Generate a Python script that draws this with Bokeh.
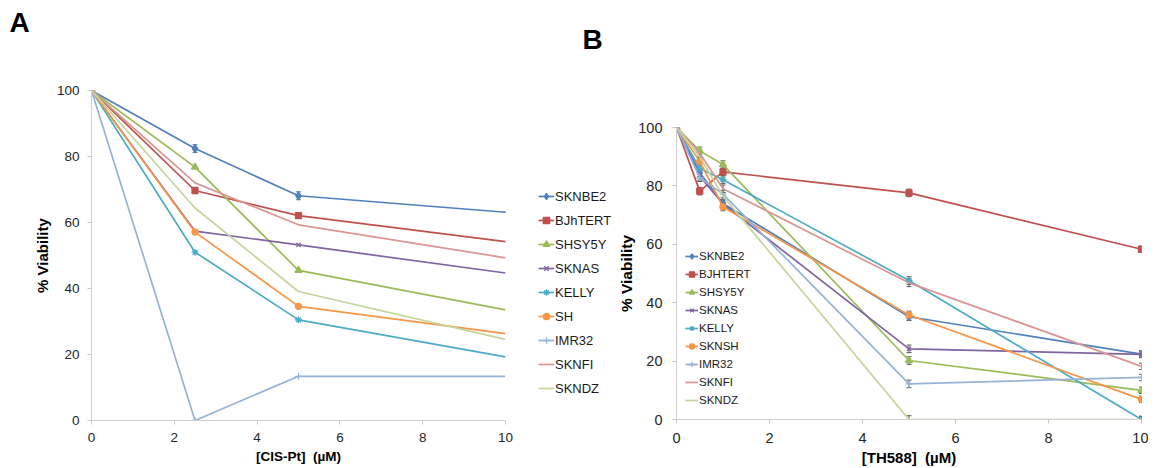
from bokeh.plotting import figure
from bokeh.layouts import row, column
from bokeh.models import (Legend, LegendItem, Label, Whisker, ColumnDataSource,
                          Range1d, FixedTicker, TeeHead)
from bokeh.embed import file_html
from bokeh.resources import INLINE

# ---------------- data : panel A (cisplatin) ----------------
lines_a = ["SKNBE2", "BJhTERT", "SHSY5Y", "SKNAS", "KELLY", "SH", "IMR32", "SKNFI", "SKNDZ"]
dose_a = [0, 2.5, 5, 10]
sknbe2_a = [100, 82.4, 68.1, 63.1]
bjhtert_a = [100, 69.7, 62.1, 54.2]
shsy5y_a = [100, 76.8, 45.5, 33.5]
sknas_a = [100, 57.4, 53.2, 44.7]
kelly_a = [100, 51.0, 30.5, 19.3]
sh_a = [100, 57.1, 34.6, 26.3]
imr32_a = [100, 0.0, 13.4, 13.4]
sknfi_a = [100, 72.0, 59.3, 49.3]
skndz_a = [100, 64.4, 39.1, 24.6]
err_sknbe2_a = [0, 1.2, 1.2, 0]

# ---------------- data : panel B (TH588) ----------------
lines_b = ["SKNBE2", "BJHTERT", "SHSY5Y", "SKNAS", "KELLY", "SKNSH", "IMR32", "SKNFI", "SKNDZ"]
dose_b = [0, 0.5, 1, 5, 10]
sknbe2_b = [100, 84.5, 74.0, 35.2, 22.4]
bjhtert_b = [100, 78.2, 84.8, 77.6, 58.3]
shsy5y_b = [100, 92.0, 87.3, 20.2, 10.0]
sknas_b = [100, 83.3, 73.8, 24.2, 22.3]
kelly_b = [100, 86.0, 82.1, 47.6, 0.0]
sknsh_b = [100, 88.4, 72.8, 35.8, 6.9]
imr32_b = [100, 82.8, 77.2, 12.2, 14.4]
sknfi_b = [100, 91.2, 79.0, 46.8, 18.2]
skndz_b = [100, 90.0, 76.5, 0.0, 0.0]
err_b = [0, 1.3, 1.3, 1.3, 1.1]

vals_a = [sknbe2_a, bjhtert_a, shsy5y_a, sknas_a, kelly_a, sh_a, imr32_a, sknfi_a, skndz_a]
vals_b = [sknbe2_b, bjhtert_b, shsy5y_b, sknas_b, kelly_b, sknsh_b, imr32_b, sknfi_b, skndz_b]

# ---------------- styles ----------------
colors = ["#4F81BD", "#C0504D", "#9BBB59", "#8064A2", "#4BACC6", "#F79646",
          "#95B3D7", "#D99694", "#C3D69B"]
markers = ["diamond", "square", "triangle", "x", "asterisk", "circle", "cross", None, None]
msizes = [8, 6, 7, 6, 7, 6, 7, 0, 0]
FONT = "Liberation Sans"
H = 468
HDR = 44


def style_axes(p, tick_size, xlab_size, ylab_size, ylab_standoff, ytick_standoff,
               xtick_standoff, xlab_standoff):
    for ax in (p.xaxis[0], p.yaxis[0]):
        ax.axis_line_color = "#D0D0D0"
        ax.axis_line_width = 1
        ax.major_tick_line_color = "#C8C8C8"
        ax.major_tick_in = 0
        ax.major_tick_out = 4
        ax.minor_tick_line_color = None
        ax.major_label_text_font = FONT
        ax.major_label_text_font_size = tick_size
        ax.major_label_text_color = "#262626"
        ax.axis_label_text_font = FONT
        ax.axis_label_text_font_style = "bold"
        ax.axis_label_text_color = "#000000"
    p.xaxis[0].axis_label_text_font_size = xlab_size
    p.yaxis[0].axis_label_text_font_size = ylab_size
    p.xaxis[0].major_label_standoff = xtick_standoff
    p.xaxis[0].axis_label_standoff = xlab_standoff
    p.yaxis[0].major_label_standoff = ytick_standoff
    p.yaxis[0].axis_label_standoff = ylab_standoff
    p.xaxis[0].ticker = FixedTicker(ticks=[0, 2, 4, 6, 8, 10])
    p.yaxis[0].ticker = FixedTicker(ticks=[0, 20, 40, 60, 80, 100])
    p.xgrid.grid_line_color = None
    p.ygrid.grid_line_color = None
    p.outline_line_color = None


def draw_series(p, x, ys, names, marker_upto):
    items = []
    for i, (y, name) in enumerate(zip(ys, names)):
        rs = [p.line(x, y, line_color=colors[i], line_width=1.7)]
        if markers[i] is not None:
            rs.append(p.scatter(x[:marker_upto], y[:marker_upto], marker=markers[i],
                                size=msizes[i], fill_color=colors[i], line_color=colors[i],
                                line_width=1.3))
        items.append(LegendItem(label=name, renderers=rs))
    return items


def blank(width, height, xr=(0, 1)):
    p = figure(width=width, height=height, output_backend="svg", toolbar_location=None,
               x_range=Range1d(*xr), y_range=Range1d(0, 100),
               x_axis_type=None, y_axis_type=None,
               min_border_left=0, min_border_right=0, min_border_top=0, min_border_bottom=0)
    p.xgrid.grid_line_color = None
    p.ygrid.grid_line_color = None
    p.outline_line_color = None
    return p


# ---------------- header strip holding the panel letter "A" ----------------
hdrA = blank(515, HDR)
hdrA.add_layout(Label(x=9, y=22, x_units="screen", y_units="screen", text="A",
                      text_font=FONT, text_font_style="bold", text_font_size="28px",
                      text_color="black", text_baseline="alphabetic"))

# ---------------- panel A ----------------
pA = figure(width=515, height=H - HDR, output_backend="svg", toolbar_location=None,
            x_range=Range1d(0, 10), y_range=Range1d(0, 100),
            min_border_left=91, min_border_right=10, min_border_top=90 - HDR,
            min_border_bottom=H - 420,
            x_axis_label="[CIS-Pt] \u00a0(µM)", y_axis_label="% Viability")
style_axes(pA, "13.5px", "13.5px", "15px", 3, 8, 8, 4)
draw_series(pA, dose_a, vals_a, lines_a, 3)

srcA = ColumnDataSource(dict(base=dose_a,
                             lower=[v - e for v, e in zip(sknbe2_a, err_sknbe2_a)],
                             upper=[v + e for v, e in zip(sknbe2_a, err_sknbe2_a)]))
pA.add_layout(Whisker(base="base", lower="lower", upper="upper", source=srcA,
                      line_color=colors[0], line_width=1,
                      upper_head=TeeHead(size=5, line_color=colors[0]),
                      lower_head=TeeHead(size=5, line_color=colors[0])))

# ---------------- legend strip for panel A ----------------
# same series as panel A, drawn with a range that keeps them out of view; only the legend shows
pL = blank(99, H, xr=(20, 21))
items_a = draw_series(pL, dose_a, vals_a, lines_a, 3)

legA = Legend(items=items_a, location=(23, H - 398), padding=0, margin=0, spacing=4,
              label_height=20, glyph_height=20, glyph_width=16, label_standoff=1,
              label_text_font=FONT, label_text_font_size="13px", label_text_color="#1a1a1a",
              border_line_color=None, background_fill_alpha=0)
pL.add_layout(legA, "center")
pL.add_layout(Label(x=67, y=H - 39, x_units="screen", y_units="screen", text="B",
                    text_font=FONT, text_font_style="bold", text_font_size="28px",
                    text_color="black", text_baseline="alphabetic"))

# ---------------- panel B ----------------
pB = figure(width=534, height=H, output_backend="svg", toolbar_location=None,
            x_range=Range1d(0, 10), y_range=Range1d(0, 100),
            min_border_left=62, min_border_right=7, min_border_top=127, min_border_bottom=H - 419,
            x_axis_label="[TH588] \u00a0(µM)", y_axis_label="% Viability")
style_axes(pB, "14.5px", "15px", "15.5px", 0, 10, 9, 3)
items_b = draw_series(pB, dose_b, vals_b, lines_b, 5)

for i, y in enumerate(vals_b):
    src = ColumnDataSource(dict(base=dose_b[1:],
                                lower=[v - e for v, e in zip(y[1:], err_b[1:])],
                                upper=[v + e for v, e in zip(y[1:], err_b[1:])]))
    pB.add_layout(Whisker(base="base", lower="lower", upper="upper", source=src,
                          line_color="#595959", line_width=1,
                          upper_head=TeeHead(size=5, line_color="#595959"),
                          lower_head=TeeHead(size=5, line_color="#595959")))

legB = Legend(items=items_b, location=(9, 11), padding=0, margin=0, spacing=2,
              label_height=16, glyph_height=16, glyph_width=13, label_standoff=1,
              label_text_font=FONT, label_text_font_size="11.5px", label_text_color="#1a1a1a",
              border_line_color=None, background_fill_alpha=0)
pB.add_layout(legB, "center")

layout = row(column(row(hdrA), row(pA), spacing=0), column(pL), column(pB), spacing=0)
open("out.html", "w").write(file_html(layout, INLINE))
